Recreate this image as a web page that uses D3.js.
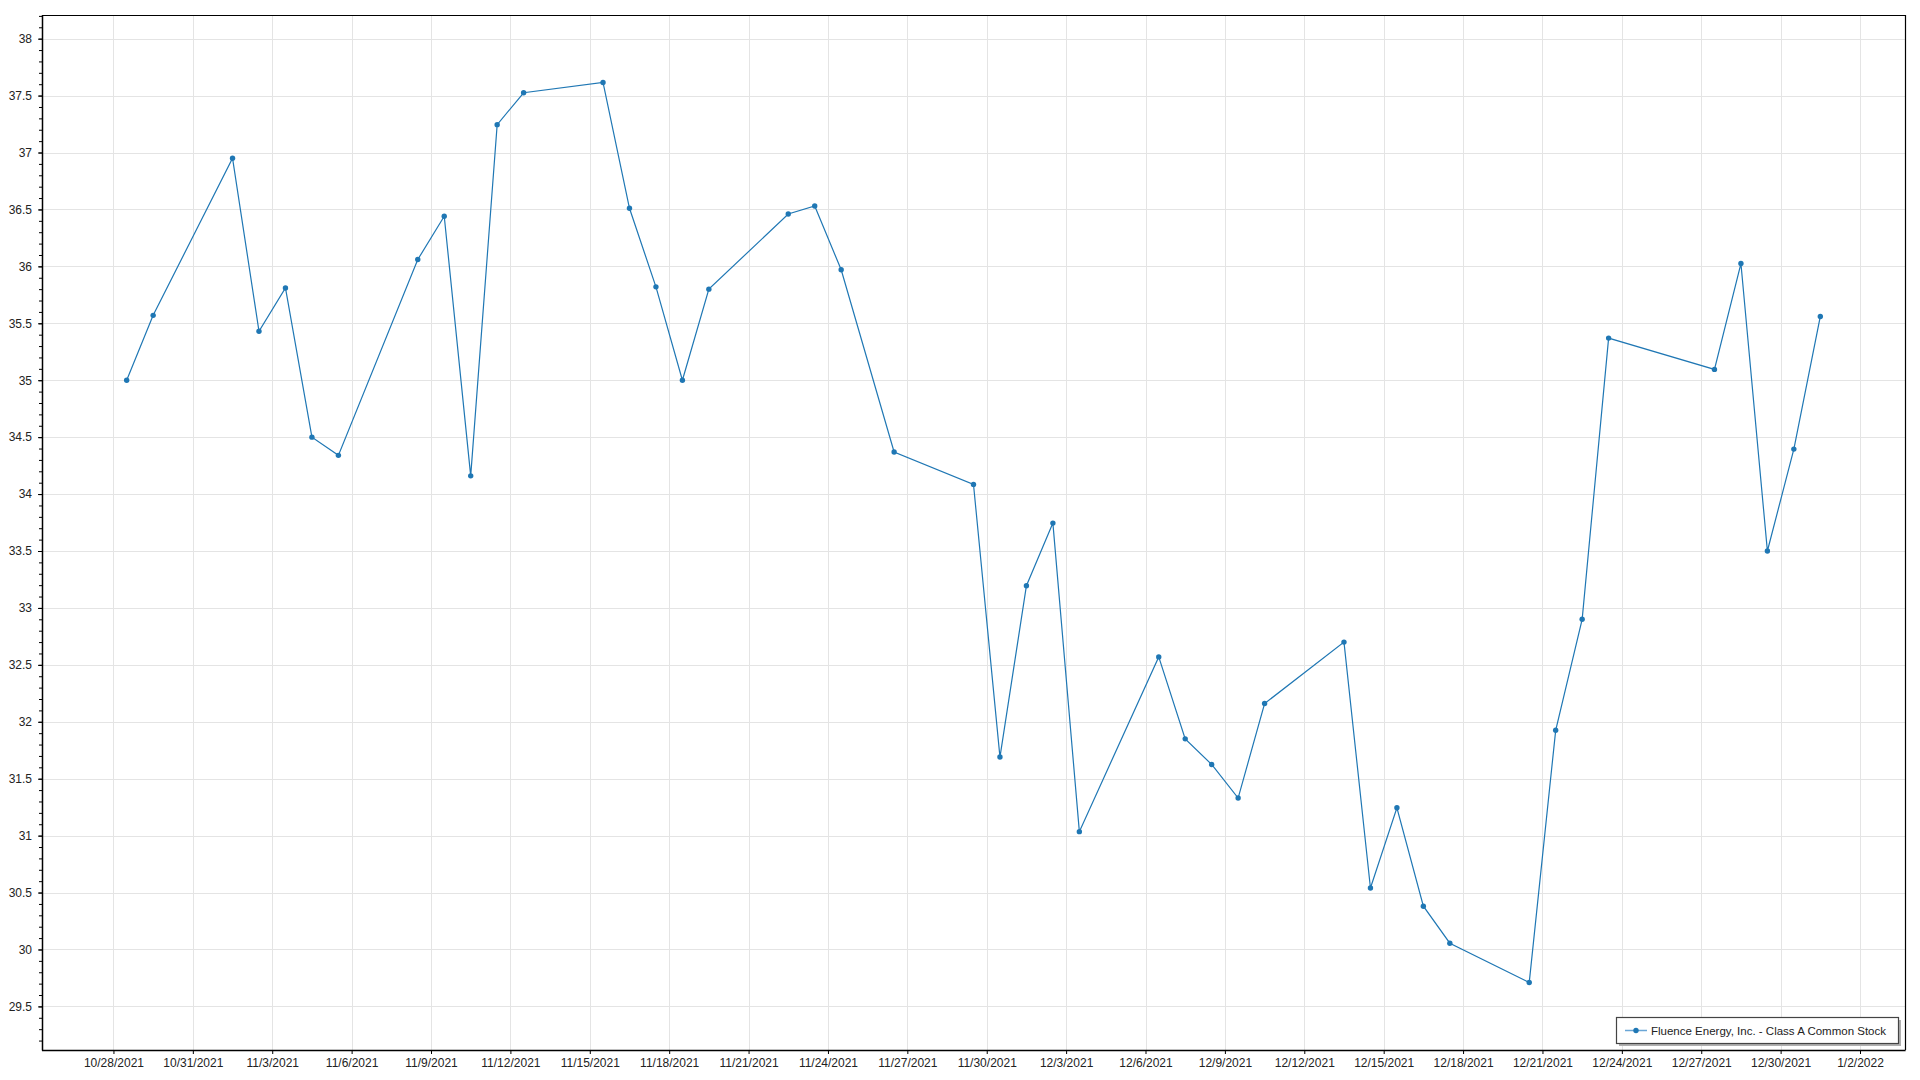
<!DOCTYPE html>
<html>
<head>
<meta charset="utf-8">
<script src="https://cdn.jsdelivr.net/npm/d3@7"></script>
<style>
  html, body { margin: 0; padding: 0; background: #fff; }
  svg { display: block; }
  text { font-family: "Liberation Sans", "DejaVu Sans", sans-serif; }
</style>
</head>
<body>
<svg id="chart" width="1920" height="1080"></svg>
<script>
// ---- data ----
const seriesName = "Fluence Energy, Inc. - Class A Common Stock";
const dates = [
  "2021-10-28","2021-10-29",
  "2021-11-01","2021-11-02","2021-11-03","2021-11-04","2021-11-05",
  "2021-11-08","2021-11-09","2021-11-10","2021-11-11","2021-11-12",
  "2021-11-15","2021-11-16","2021-11-17","2021-11-18","2021-11-19",
  "2021-11-22","2021-11-23","2021-11-24","2021-11-26",
  "2021-11-29","2021-11-30","2021-12-01","2021-12-02","2021-12-03",
  "2021-12-06","2021-12-07","2021-12-08","2021-12-09","2021-12-10",
  "2021-12-13","2021-12-14","2021-12-15","2021-12-16","2021-12-17",
  "2021-12-20","2021-12-21","2021-12-22","2021-12-23",
  "2021-12-27","2021-12-28","2021-12-29","2021-12-30","2021-12-31"
];
const prices = [
  35.00, 35.57,
  36.95, 35.43, 35.81, 34.50, 34.34,
  36.06, 36.44, 34.16, 37.245, 37.525,
  37.615, 36.51, 35.82, 35.00, 35.80,
  36.46, 36.53, 35.97, 34.37,
  34.085, 31.69, 33.195, 33.745, 31.035,
  32.57, 31.85, 31.625, 31.33, 32.16,
  32.70, 30.54, 31.245, 30.38, 30.055,
  29.71, 31.925, 32.90, 35.37,
  35.095, 36.025, 33.50, 34.395, 35.56
];
const xTickLabels = [
  "10/28/2021","10/31/2021","11/3/2021","11/6/2021","11/9/2021","11/12/2021",
  "11/15/2021","11/18/2021","11/21/2021","11/24/2021","11/27/2021","11/30/2021",
  "12/3/2021","12/6/2021","12/9/2021","12/12/2021","12/15/2021","12/18/2021",
  "12/21/2021","12/24/2021","12/27/2021","12/30/2021","1/2/2022"
];
const yTickValues = [29.5,30,30.5,31,31.5,32,32.5,33,33.5,34,34.5,35,35.5,36,36.5,37,37.5,38];

// ---- layout ----
const L = 42, R = 1905, T = 15, B = 1050;
const lineColor = "#1f77b4";

function parseDay(s, hour) {
  const [y, m, d] = s.split("-").map(Number);
  return new Date(y, m - 1, d, hour || 0);
}
function parseLabel(s) {
  const [m, d, y] = s.split("/").map(Number);
  return new Date(y, m - 1, d);
}

const points = dates.map((d, i) => ({ date: parseDay(d, 12), value: prices[i] }));

// domains: data extent padded (5% in x, 7.5% in y)
const xExt = d3.extent(points, d => d.date);
const xPad = (xExt[1] - xExt[0]) * 0.05;
const x = d3.scaleTime()
  .domain([new Date(+xExt[0] - xPad), new Date(+xExt[1] + xPad)])
  .range([L, R]);
const yExt = d3.extent(points, d => d.value);
const yPad = (yExt[1] - yExt[0]) * 0.075;
const y = d3.scaleLinear()
  .domain([yExt[0] - yPad, yExt[1] + yPad])
  .range([B, T]);

const svg = d3.select("#chart");

// gridlines
const xTicks = xTickLabels.map(parseLabel);
svg.append("g").selectAll("line").data(xTicks).join("line")
  .attr("x1", d => Math.round(x(d)) + 0.5).attr("x2", d => Math.round(x(d)) + 0.5)
  .attr("y1", T).attr("y2", B)
  .attr("stroke", "#e4e4e4").attr("stroke-width", 1);
svg.append("g").selectAll("line").data(yTickValues).join("line")
  .attr("x1", L).attr("x2", R)
  .attr("y1", d => Math.round(y(d)) + 0.5).attr("y2", d => Math.round(y(d)) + 0.5)
  .attr("stroke", "#e4e4e4").attr("stroke-width", 1);

// frame (top/right)
svg.append("path")
  .attr("d", `M${L},${T + 0.5}H${R + 0.5}V${B}`)
  .attr("fill", "none").attr("stroke", "#000").attr("stroke-width", 1.2);

// x axis
const xAxis = d3.axisBottom(x)
  .tickValues(xTicks)
  .tickSize(4)
  .tickPadding(4)
  .tickFormat((d, i) => xTickLabels[i]);
const gx = svg.append("g").attr("transform", `translate(0,${B})`).call(xAxis);
gx.select(".domain").attr("stroke", "#000").attr("stroke-width", 1.5).attr("d", `M${L},0.5H${R + 0.6}`);
gx.selectAll(".tick line").attr("stroke", "#000");
gx.selectAll(".tick text").attr("font-size", 12).attr("fill", "#222")
  .attr("font-family", "'Liberation Sans', sans-serif");

// y axis (major + minor)
const yMinor = d3.range(292, 383).map(v => v / 10).filter(v => v >= y.domain()[0] && v <= y.domain()[1]);
const gyMinor = svg.append("g").attr("transform", `translate(${L},0)`)
  .call(d3.axisLeft(y).tickValues(yMinor).tickSize(3).tickFormat(""));
gyMinor.select(".domain").remove();
gyMinor.selectAll(".tick line").attr("stroke", "#000");

const yAxis = d3.axisLeft(y)
  .tickValues(yTickValues)
  .tickSize(4)
  .tickPadding(6)
  .tickFormat(d3.format("~g"));
const gy = svg.append("g").attr("transform", `translate(${L},0)`).call(yAxis);
gy.select(".domain").attr("stroke", "#000").attr("stroke-width", 1.5).attr("d", `M0.5,${T}V${B + 0.5}`);
gy.selectAll(".tick line").attr("stroke", "#000");
gy.selectAll(".tick text").attr("font-size", 12).attr("fill", "#222")
  .attr("font-family", "'Liberation Sans', sans-serif");

// line
const line = d3.line().x(d => x(d.date)).y(d => y(d.value));
svg.append("path").datum(points)
  .attr("d", line)
  .attr("fill", "none")
  .attr("stroke", lineColor)
  .attr("stroke-width", 1.2);

// markers
svg.append("g").selectAll("circle").data(points).join("circle")
  .attr("cx", d => x(d.date)).attr("cy", d => y(d.value))
  .attr("r", 2.7).attr("fill", lineColor);

// legend
const lg = svg.append("g").attr("transform", "translate(1616,1017)");
const lw = 282, lh = 26;
lg.append("rect").attr("x", 3).attr("y", 3).attr("width", lw).attr("height", lh).attr("fill", "#b0b0b0");
lg.append("rect").attr("x", 0.5).attr("y", 0.5).attr("width", lw).attr("height", lh)
  .attr("fill", "#fff").attr("stroke", "#444").attr("stroke-width", 1.2);
lg.append("line").attr("x1", 9).attr("x2", 31).attr("y1", 13.5).attr("y2", 13.5)
  .attr("stroke", "#6aa6d6").attr("stroke-width", 1.5);
lg.append("circle").attr("cx", 20).attr("cy", 13.5).attr("r", 2.7).attr("fill", lineColor);
lg.append("text").attr("x", 35).attr("y", 18).attr("font-size", 11.5).attr("fill", "#222")
  .text(seriesName);
</script>
</body>
</html>
